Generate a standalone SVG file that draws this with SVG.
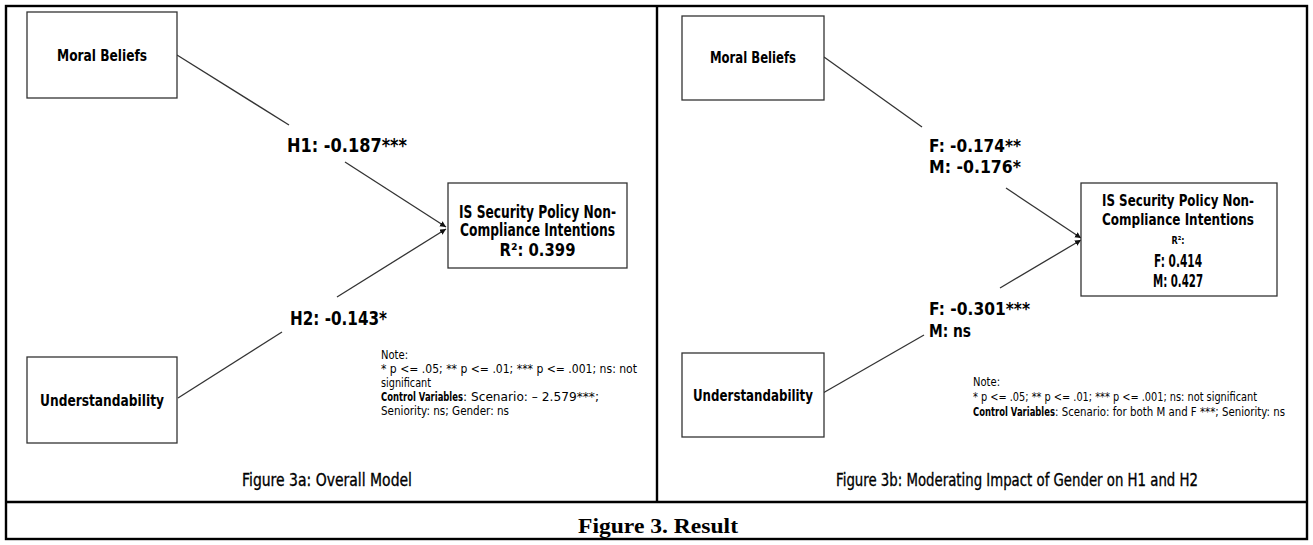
<svg xmlns="http://www.w3.org/2000/svg" width="1313" height="545" viewBox="0 0 1313 545">
<defs>
<marker id="arr" markerUnits="userSpaceOnUse" markerWidth="8" markerHeight="8" refX="6" refY="3" orient="auto">
<path d="M0,0 L6,3 L0,6 z" fill="#111"/>
</marker>
</defs>
<style>
.frame{fill:none;stroke:#000;stroke-width:2.4}
.box{fill:#fff;stroke:#333;stroke-width:1.3}
.con{fill:none;stroke:#333;stroke-width:1.3}
.lbl{font-family:"DejaVu Sans","Liberation Sans",sans-serif;font-weight:bold;fill:#000}
.nd{font-family:"DejaVu Sans","Liberation Sans",sans-serif;font-weight:bold;font-size:16.5px;fill:#000}
.note{font-family:"DejaVu Sans","Liberation Sans",sans-serif;font-size:12.5px;fill:#000}
.nb{font-family:"DejaVu Sans","Liberation Sans",sans-serif;font-size:12.5px;font-weight:bold;fill:#000}
.cap{font-family:"DejaVu Sans","Liberation Sans",sans-serif;font-size:17px;fill:#000;stroke:#000;stroke-width:0.35}
.title{font-family:"Liberation Serif","Times New Roman",serif;font-weight:bold;font-size:22px;fill:#000}
</style>
<rect width="1313" height="545" fill="#fff"/>
<g id="frame">
<rect class="frame" x="6" y="6" width="1301" height="533"/>
<line class="frame" x1="657" y1="6" x2="657" y2="502"/>
<line class="frame" x1="6" y1="502" x2="1307" y2="502"/>
</g>
<g id="connectors">
<line class="con" x1="177" y1="55" x2="289" y2="125"/>
<line class="con" x1="345" y1="162" x2="446" y2="227" marker-end="url(#arr)"/>
<line class="con" x1="337" y1="297" x2="446" y2="229" marker-end="url(#arr)"/>
<line class="con" x1="178" y1="398" x2="282" y2="332"/>
<line class="con" x1="824" y1="57" x2="922" y2="127"/>
<line class="con" x1="1006" y1="188" x2="1081" y2="238" marker-end="url(#arr)"/>
<line class="con" x1="1000" y1="288" x2="1081" y2="240" marker-end="url(#arr)"/>
<line class="con" x1="823" y1="393" x2="924" y2="335"/>
</g>
<g id="a-moral">
<rect class="box" x="27" y="12" width="150" height="86"/>
<text class="nd" x="102" y="61" text-anchor="middle" textLength="90" lengthAdjust="spacingAndGlyphs">Moral Beliefs</text>
</g>
<g id="a-under">
<rect class="box" x="27" y="357" width="150" height="86"/>
<text class="nd" x="102" y="406" text-anchor="middle" textLength="124" lengthAdjust="spacingAndGlyphs">Understandability</text>
</g>
<g id="a-isp">
<rect class="box" x="448" y="183" width="179" height="85"/>
<text class="lbl" font-size="17" x="537.5" y="218" text-anchor="middle" textLength="157" lengthAdjust="spacingAndGlyphs">IS Security Policy Non-</text>
<text class="lbl" font-size="17" x="537.5" y="236" text-anchor="middle" textLength="155" lengthAdjust="spacingAndGlyphs">Compliance Intentions</text>
<text class="lbl" font-size="17" x="537.5" y="256" text-anchor="middle" textLength="76" lengthAdjust="spacingAndGlyphs">R²: 0.399</text>
</g>
<g id="a-labels">
<text class="lbl" font-size="20" x="287" y="152" textLength="120" lengthAdjust="spacingAndGlyphs">H1: -0.187***</text>
<text class="lbl" font-size="20" x="290" y="325" textLength="97" lengthAdjust="spacingAndGlyphs">H2: -0.143*</text>
</g>
<g id="a-note">
<text class="note" x="381" y="359" textLength="27" lengthAdjust="spacingAndGlyphs">Note:</text>
<text class="note" x="381" y="373" textLength="256" lengthAdjust="spacingAndGlyphs">* p &lt;= .05; ** p &lt;= .01; *** p &lt;= .001; ns: not</text>
<text class="note" x="381" y="387" textLength="50" lengthAdjust="spacingAndGlyphs">significant</text>
<text class="nb" x="381" y="401" textLength="82" lengthAdjust="spacingAndGlyphs">Control Variables</text>
<text class="note" x="463" y="401" textLength="136" lengthAdjust="spacingAndGlyphs">: Scenario: – 2.579***;</text>
<text class="note" x="381" y="415" textLength="128" lengthAdjust="spacingAndGlyphs">Seniority: ns; Gender: ns</text>
</g>
<text class="cap" x="242" y="486" textLength="170" lengthAdjust="spacingAndGlyphs">Figure 3a: Overall Model</text>
<g id="b-moral">
<rect class="box" x="682" y="16" width="142" height="84"/>
<text class="nd" x="753" y="63" text-anchor="middle" textLength="86" lengthAdjust="spacingAndGlyphs">Moral Beliefs</text>
</g>
<g id="b-under">
<rect class="box" x="682" y="353" width="142" height="84"/>
<text class="nd" x="753" y="401" text-anchor="middle" textLength="120" lengthAdjust="spacingAndGlyphs">Understandability</text>
</g>
<g id="b-isp">
<rect class="box" x="1081" y="183" width="196" height="113"/>
<text class="lbl" font-size="16.5" x="1178" y="206" text-anchor="middle" textLength="152" lengthAdjust="spacingAndGlyphs">IS Security Policy Non-</text>
<text class="lbl" font-size="16.5" x="1178" y="225" text-anchor="middle" textLength="152" lengthAdjust="spacingAndGlyphs">Compliance Intentions</text>
<text class="lbl" font-size="11" x="1178" y="244" text-anchor="middle" textLength="13" lengthAdjust="spacingAndGlyphs">R²:</text>
<text class="lbl" font-size="18" x="1178" y="267" text-anchor="middle" textLength="48" lengthAdjust="spacingAndGlyphs">F: 0.414</text>
<text class="lbl" font-size="18" x="1178" y="287" text-anchor="middle" textLength="50" lengthAdjust="spacingAndGlyphs">M: 0.427</text>
</g>
<g id="b-labels">
<text class="lbl" font-size="18.5" x="929" y="152" textLength="92" lengthAdjust="spacingAndGlyphs">F: -0.174**</text>
<text class="lbl" font-size="18.5" x="929" y="173" textLength="92" lengthAdjust="spacingAndGlyphs">M: -0.176*</text>
<text class="lbl" font-size="18.5" x="929" y="315" textLength="101" lengthAdjust="spacingAndGlyphs">F: -0.301***</text>
<text class="lbl" font-size="18.5" x="929" y="337" textLength="42" lengthAdjust="spacingAndGlyphs">M: ns</text>
</g>
<g id="b-note">
<text class="note" x="973" y="386" textLength="27" lengthAdjust="spacingAndGlyphs">Note:</text>
<text class="note" x="973" y="401" textLength="284" lengthAdjust="spacingAndGlyphs">* p &lt;= .05; ** p &lt;= .01; *** p &lt;= .001; ns: not significant</text>
<text class="nb" x="973" y="416" textLength="82" lengthAdjust="spacingAndGlyphs">Control Variables</text>
<text class="note" x="1055" y="416" textLength="230" lengthAdjust="spacingAndGlyphs">: Scenario: for both M and F ***; Seniority: ns</text>
</g>
<text class="cap" x="836" y="486" textLength="362" lengthAdjust="spacingAndGlyphs">Figure 3b: Moderating Impact of Gender on H1 and H2</text>
<text class="title" x="658" y="533" text-anchor="middle" textLength="160" lengthAdjust="spacingAndGlyphs">Figure 3. Result</text>
</svg>
